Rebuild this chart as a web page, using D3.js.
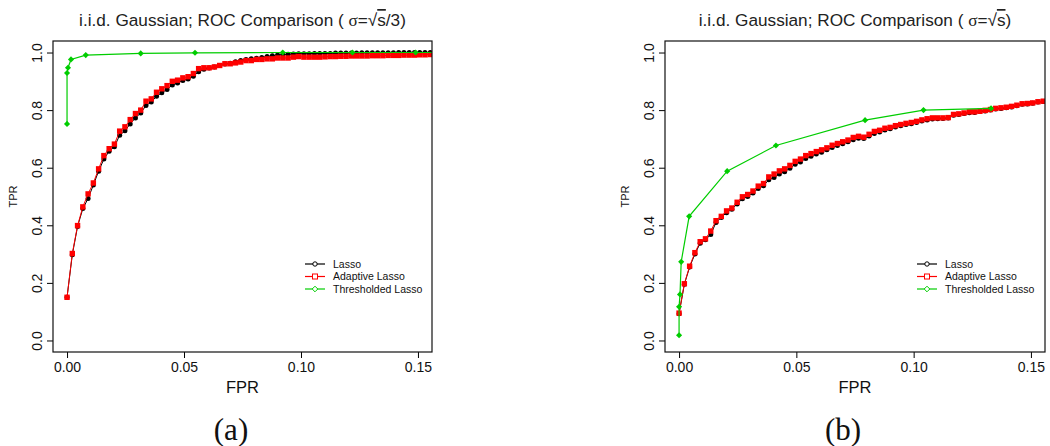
<!DOCTYPE html>
<html>
<head>
<meta charset="utf-8">
<script src="https://cdn.jsdelivr.net/npm/d3@7"></script>
<style>
  html, body { margin: 0; padding: 0; background: #fff; }
  svg { display: block; font-family: "Liberation Sans", Arial, sans-serif; }
</style>
</head>
<body>
<svg id="chart" width="1050" height="446"></svg>
<script>
// shared FPR grid for the Lasso / Adaptive Lasso curves
const fprGrid = [
  0, 0.00225, 0.0045, 0.00675, 0.009, 0.01125, 0.0135, 0.01575, 0.018, 0.02025,
  0.0225, 0.02475, 0.027, 0.02925, 0.0315, 0.03375, 0.036, 0.03825, 0.0405, 0.04275,
  0.045, 0.04725, 0.0495, 0.05175, 0.054, 0.05625, 0.0585, 0.06075, 0.063, 0.06525,
  0.0675, 0.06975, 0.072, 0.07425, 0.0765, 0.07875, 0.081, 0.08325, 0.0855, 0.08775,
  0.09, 0.09225, 0.0945, 0.09675, 0.099, 0.10125, 0.1035, 0.10575, 0.108, 0.11025,
  0.1125, 0.11475, 0.117, 0.11925, 0.1215, 0.12375, 0.126, 0.12825, 0.1305, 0.13275,
  0.135, 0.13725, 0.1395, 0.14175, 0.144, 0.14625, 0.1485, 0.15075, 0.153, 0.15525,
  0.1575
];

// panel (a): sigma = sqrt(s)/3
const lassoA = [
  0.150, 0.298, 0.396, 0.458, 0.493, 0.540, 0.588, 0.630, 0.657, 0.673,
  0.713, 0.728, 0.752, 0.773, 0.790, 0.816, 0.828, 0.848, 0.860, 0.872,
  0.887, 0.894, 0.903, 0.908, 0.918, 0.933, 0.942, 0.946, 0.950, 0.955,
  0.960, 0.963, 0.968, 0.972, 0.976, 0.978, 0.980, 0.983, 0.986, 0.989,
  0.991, 0.993, 0.994, 0.995, 0.996, 0.996, 0.996, 0.997, 0.997, 0.997,
  0.997, 0.998, 0.998, 0.998, 0.998, 0.998, 0.999, 0.999, 0.999, 0.999,
  0.999, 0.999, 0.999, 1.000, 1.000, 1.000, 1.000, 1.000, 1.000, 1.000,
  1.000
];
const adaptiveA = [
  0.150, 0.302, 0.399, 0.464, 0.509, 0.547, 0.596, 0.642, 0.666, 0.682,
  0.727, 0.742, 0.767, 0.788, 0.800, 0.831, 0.839, 0.862, 0.874, 0.885,
  0.900, 0.904, 0.912, 0.916, 0.927, 0.944, 0.947, 0.947, 0.950, 0.955,
  0.961, 0.961, 0.964, 0.967, 0.972, 0.972, 0.976, 0.976, 0.978, 0.978,
  0.981, 0.981, 0.981, 0.984, 0.986, 0.984, 0.984, 0.984, 0.984, 0.985,
  0.986, 0.986, 0.987, 0.987, 0.988, 0.988, 0.988, 0.988, 0.989, 0.989,
  0.989, 0.990, 0.990, 0.990, 0.991, 0.991, 0.991, 0.992, 0.992, 0.993,
  0.993
];
const threshFprA = [0, 0, 0.0004, 0.0017, 0.008, 0.0315, 0.0547, 0.0922, 0.122, 0.149, 0.19];
const threshTprA = [0.752, 0.929, 0.947, 0.976, 0.991, 0.997, 0.999, 1.0, 1.0, 1.0, 1.0];

// panel (b): sigma = sqrt(s)
const lassoB = [
  0.093, 0.195, 0.255, 0.300, 0.338, 0.350, 0.368, 0.410, 0.427, 0.444,
  0.456, 0.474, 0.492, 0.500, 0.512, 0.528, 0.537, 0.558, 0.566, 0.578,
  0.586, 0.598, 0.612, 0.620, 0.632, 0.640, 0.648, 0.654, 0.662, 0.670,
  0.677, 0.683, 0.690, 0.697, 0.702, 0.701, 0.710, 0.719, 0.724, 0.731,
  0.735, 0.741, 0.746, 0.750, 0.753, 0.757, 0.762, 0.766, 0.769, 0.770,
  0.771, 0.773, 0.782, 0.785, 0.788, 0.791, 0.792, 0.795, 0.797, 0.800,
  0.804, 0.806, 0.808, 0.811, 0.815, 0.820, 0.821, 0.824, 0.828, 0.830,
  0.833
];
const adaptiveB = [
  0.095, 0.197, 0.258, 0.305, 0.343, 0.353, 0.380, 0.416, 0.431, 0.450,
  0.460, 0.480, 0.499, 0.507, 0.519, 0.536, 0.545, 0.568, 0.578, 0.589,
  0.596, 0.608, 0.622, 0.630, 0.642, 0.649, 0.656, 0.662, 0.669, 0.678,
  0.684, 0.690, 0.696, 0.705, 0.709, 0.706, 0.716, 0.726, 0.730, 0.737,
  0.740, 0.746, 0.750, 0.754, 0.757, 0.761, 0.766, 0.770, 0.773, 0.773,
  0.773, 0.774, 0.785, 0.787, 0.790, 0.794, 0.794, 0.796, 0.799, 0.802,
  0.806, 0.808, 0.810, 0.813, 0.817, 0.822, 0.823, 0.825, 0.829, 0.831,
  0.834
];
const threshFprB = [0, 0, 0.0004, 0.0009, 0.0043, 0.0205, 0.0413, 0.0793, 0.1042, 0.133];
const threshTprB = [0.018, 0.117, 0.160, 0.273, 0.431, 0.588, 0.677, 0.765, 0.800, 0.806];

const xTicks = [0, 0.05, 0.1, 0.15];
const xTickLabels = ["0.00", "0.05", "0.10", "0.15"];
const yTicks = [0, 0.2, 0.4, 0.6, 0.8, 1.0];
const yTickLabels = ["0.0", "0.2", "0.4", "0.6", "0.8", "1.0"];
const seriesNames = ["Lasso", "Adaptive Lasso", "Thresholded Lasso"];
const seriesColors = ["#000000", "#ff0000", "#00cd00"];

const svg = d3.select("#chart");

const zip = (xs, ys) => ys.map((y, i) => ({ x: xs[i], y: y }));

const buildPanel = (opts) => {
  const { left, right, top, bottom, titleTail, caption, captionX, id } = opts;

  const x = d3.scaleLinear().domain([-0.006, 0.156]).range([left, right]);
  const y = d3.scaleLinear().domain([-0.04, 1.04]).range([bottom, top]);

  const g = svg.append("g");

  g.append("clipPath")
    .attr("id", id)
    .append("rect")
    .attr("x", left)
    .attr("y", top)
    .attr("width", right - left)
    .attr("height", bottom - top);

  // title
  const title = g
    .append("text")
    .attr("x", (left + right) / 2)
    .attr("y", 26)
    .attr("text-anchor", "middle")
    .style("font-size", "17.2px")
    .style("fill", "#222");
  title.append("tspan").text("i.i.d. Gaussian; ROC Comparison ( ");
  title.append("tspan").style("font-family", "'Liberation Serif', serif").text("σ");
  title.append("tspan").text("=√");
  title.append("tspan").style("text-decoration", "overline").text("s");
  title.append("tspan").text(titleTail);

  // axes
  const xAxis = d3.axisBottom(x).tickValues(xTicks).tickSize(6)
    .tickFormat((d, i) => xTickLabels[i]);
  const xg = g.append("g").attr("transform", `translate(0,${bottom})`).call(xAxis);
  xg.select(".domain").remove();
  xg.selectAll("text").attr("dy", null).attr("y", 20).style("font-size", "14px")
    .style("font-family", "'Liberation Sans', Arial, sans-serif").style("fill", "#111");

  const yAxis = d3.axisLeft(y).tickValues(yTicks).tickSize(6)
    .tickFormat((d, i) => yTickLabels[i]);
  const yg = g.append("g").attr("transform", `translate(${left},0)`).call(yAxis);
  yg.select(".domain").remove();
  yg.selectAll("text")
    .attr("x", null).attr("dy", null)
    .attr("text-anchor", "middle")
    .attr("transform", "translate(-11,0) rotate(-90)")
    .style("font-size", "14px")
    .style("font-family", "'Liberation Sans', Arial, sans-serif")
    .style("fill", "#111");

  g.append("text")
    .attr("x", (left + right) / 2)
    .attr("y", 393)
    .attr("text-anchor", "middle")
    .style("font-size", "16.5px")
    .style("fill", "#111")
    .text("FPR");

  g.append("text")
    .attr("transform", `translate(${left - 36},${(top + bottom) / 2}) rotate(-90)`)
    .attr("text-anchor", "middle")
    .style("font-size", "11px")
    .style("fill", "#111")
    .text("TPR");

  // data
  const plot = g.append("g").attr("clip-path", `url(#${id})`);
  const line = d3.line().x((d) => x(d.x)).y((d) => y(d.y));

  const lassoData = zip(fprGrid, opts.lasso);
  const adaptiveData = zip(fprGrid, opts.adaptive);
  const threshData = zip(opts.threshFpr, opts.threshTpr);

  plot.append("path").datum(lassoData).attr("d", line)
    .attr("fill", "none").attr("stroke", seriesColors[0]).attr("stroke-width", 1);
  plot.selectAll(".lasso").data(lassoData).enter().append("circle")
    .classed("lasso", true)
    .attr("cx", (d) => x(d.x)).attr("cy", (d) => y(d.y)).attr("r", 2.5)
    .attr("fill", seriesColors[0]);

  plot.append("path").datum(adaptiveData).attr("d", line)
    .attr("fill", "none").attr("stroke", seriesColors[1]).attr("stroke-width", 1);
  plot.selectAll(".adaptive").data(adaptiveData).enter().append("rect")
    .classed("adaptive", true)
    .attr("x", (d) => x(d.x) - 2.7).attr("y", (d) => y(d.y) - 2.7)
    .attr("width", 5.4).attr("height", 5.4)
    .attr("fill", seriesColors[1]);

  plot.append("path").datum(threshData).attr("d", line)
    .attr("fill", "none").attr("stroke", seriesColors[2]).attr("stroke-width", 1.2);
  plot.selectAll(".thresh").data(threshData).enter().append("path")
    .classed("thresh", true)
    .attr("d", d3.symbol().type(d3.symbolDiamond2).size(24))
    .attr("transform", (d) => `translate(${x(d.x)},${y(d.y)})`)
    .attr("fill", seriesColors[2]);

  // box
  g.append("rect")
    .attr("x", left).attr("y", top)
    .attr("width", right - left).attr("height", bottom - top)
    .attr("fill", "none").attr("stroke", "#111").attr("stroke-width", 1.2);

  // legend
  const legend = g.append("g").attr("transform", `translate(${left + 252},264)`);
  seriesNames.forEach((name, i) => {
    const row = legend.append("g").attr("transform", `translate(0,${i * 12.5})`);
    row.append("line").attr("x1", 0).attr("x2", 20).attr("y1", 0).attr("y2", 0)
      .attr("stroke", seriesColors[i]).attr("stroke-width", 1.2);
    if (i === 0) {
      row.append("circle").attr("cx", 10).attr("cy", 0).attr("r", 2.2)
        .attr("fill", "#fff").attr("stroke", seriesColors[i]).attr("stroke-width", 1);
    } else if (i === 1) {
      row.append("rect").attr("x", 7.5).attr("y", -2.5).attr("width", 5).attr("height", 5)
        .attr("fill", "#fff").attr("stroke", seriesColors[i]).attr("stroke-width", 1);
    } else {
      row.append("path").attr("d", d3.symbol().type(d3.symbolDiamond2).size(20))
        .attr("transform", "translate(10,0)")
        .attr("fill", "#fff").attr("stroke", seriesColors[i]).attr("stroke-width", 1);
    }
    row.append("text").attr("x", 28).attr("y", 3.8)
      .style("font-size", "10.5px").style("fill", "#111").text(name);
  });

  // caption
  svg.append("text")
    .attr("x", captionX).attr("y", 440)
    .attr("text-anchor", "middle")
    .style("font-family", "'Liberation Serif', 'DejaVu Serif', serif")
    .style("font-size", "31px")
    .style("fill", "#111")
    .text(caption);
};

buildPanel({
  id: "clipA", left: 53, right: 432, top: 41, bottom: 352,
  titleTail: "/3)", caption: "(a)", captionX: 231,
  lasso: lassoA, adaptive: adaptiveA, threshFpr: threshFprA, threshTpr: threshTprA
});

buildPanel({
  id: "clipB", left: 665, right: 1045, top: 41, bottom: 352,
  titleTail: ")", caption: "(b)", captionX: 843,
  lasso: lassoB, adaptive: adaptiveB, threshFpr: threshFprB, threshTpr: threshTprB
});
</script>
</body>
</html>
